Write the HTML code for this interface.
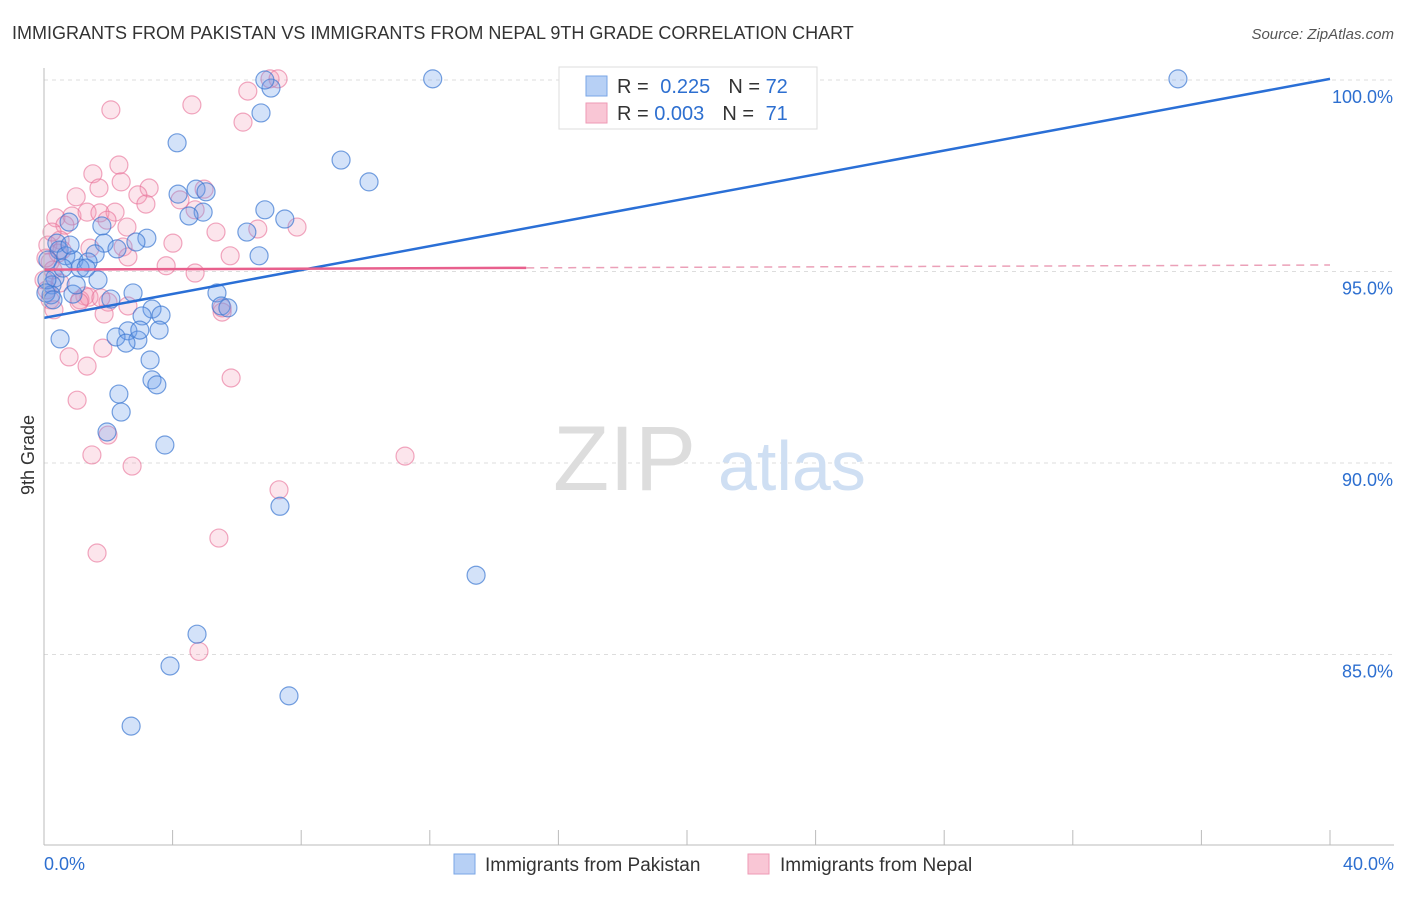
<!DOCTYPE html>
<html><head><meta charset="utf-8"><style>
body{margin:0;background:#fff;font-family:"Liberation Sans",sans-serif;}
svg text{font-family:"Liberation Sans",sans-serif;}
</style></head><body>
<svg id="chart" width="1406" height="892" xmlns="http://www.w3.org/2000/svg">
<text x="12" y="39" font-size="18" fill="#333">IMMIGRANTS FROM PAKISTAN VS IMMIGRANTS FROM NEPAL 9TH GRADE CORRELATION CHART</text>
<text x="1394" y="39" font-size="15" fill="#555" font-style="italic" text-anchor="end">Source: ZipAtlas.com</text>
<g id="grid"></g>
<g><text x="553" y="490" font-size="92" fill="#ddd" font-family="Liberation Serif">ZIP</text><text x="718" y="490" font-size="70" fill="#cfdff3">atlas</text></g>
<g id="pts"></g>
<g id="trend"></g>
<g id="axes"></g>
<text transform="translate(34,455) rotate(-90)" font-size="18" fill="#333" text-anchor="middle">9th Grade</text>
<g>
<rect x="559" y="67" width="258" height="62" fill="#fff" stroke="#ddd"/>
<rect x="586" y="76" width="21" height="20" fill="#b7d0f5" stroke="#7aa6e6"/>
<rect x="586" y="103" width="21" height="20" fill="#f9c6d5" stroke="#ee9ab5"/>
<text x="617" y="93" font-size="20" fill="#333">R = <tspan fill="#2d6fd0" dx="6">0.225</tspan><tspan dx="18" fill="#333">N = </tspan><tspan fill="#2d6fd0">72</tspan></text>
<text x="617" y="120" font-size="20" fill="#333">R = <tspan fill="#2d6fd0">0.003</tspan><tspan dx="18" fill="#333">N = </tspan><tspan fill="#2d6fd0" dx="6">71</tspan></text>
</g>
<g>
<rect x="454" y="854" width="21" height="20" fill="#b7d0f5" stroke="#7aa6e6"/>
<text x="485" y="871" font-size="19" fill="#333">Immigrants from Pakistan</text>
<rect x="748" y="854" width="21" height="20" fill="#f9c6d5" stroke="#ee9ab5"/>
<text x="780" y="871" font-size="19" fill="#333">Immigrants from Nepal</text>
</g>
</svg>
<script>
const yTicks=[100,95,90,85];
const yTickLabels=["100.0%","95.0%","90.0%","85.0%"];
const xTickLabels=["0.0%","40.0%"];
const blueX=[12.09,35.27,16.36,7.06,6.87,6.75,4.14,9.24,10.11,4.73,5.04,4.17,4.95,4.51,6.87,7.49,6.31,6.69,0.78,1.80,3.20,2.86,1.87,2.27,0.40,0.47,0.68,0.93,1.59,1.37,1.68,1.12,1.31,0.34,0.25,0.90,0.22,5.38,5.51,5.72,2.77,2.08,3.36,3.05,3.64,2.61,2.24,2.92,2.55,3.58,0.50,3.30,3.36,3.51,2.33,2.40,1.96,3.76,7.34,13.44,4.76,3.92,7.62,2.71,0.09,0.59,0.06,1.00,0.12,0.28,2.98,0.81];
const blueY=[100.03,100.03,100.03,99.79,100.0,99.14,98.36,97.91,97.34,97.15,97.08,97.02,96.55,96.45,96.61,96.37,96.03,95.41,96.29,96.19,95.87,95.77,95.74,95.59,95.74,95.56,95.41,95.30,95.46,95.25,94.78,95.09,95.09,94.83,94.65,94.41,94.39,94.44,94.10,94.05,94.44,94.28,94.02,93.84,93.86,93.45,93.29,93.21,93.13,93.47,93.24,92.69,92.17,92.04,91.80,91.33,90.81,90.47,88.87,87.07,85.53,84.70,83.92,83.13,94.78,95.09,94.44,94.65,95.30,94.26,93.47,95.69];
const pinkX=[7.03,7.28,6.34,4.60,2.08,6.19,2.33,1.52,2.40,1.71,3.27,1.00,2.92,4.98,3.17,4.23,0.37,0.87,1.34,1.74,2.21,1.96,2.58,4.70,4.01,5.35,6.65,7.87,0.65,0.50,1.43,2.46,2.61,3.80,4.70,0.12,0.44,0.19,0.28,0.50,0.09,0.19,0.31,1.27,1.12,1.40,1.99,1.77,1.09,2.61,1.87,5.54,1.83,0.78,1.34,5.82,1.03,1.49,1.99,2.74,11.23,7.31,1.65,5.44,4.82,5.54,5.79,0.25,0.06,0.56,0.0];
const pinkY=[100.03,100.03,99.71,99.35,99.22,98.90,97.78,97.55,97.34,97.18,97.18,96.95,97.00,97.15,96.76,96.87,96.40,96.45,96.55,96.53,96.55,96.34,96.16,96.61,95.74,96.03,96.11,96.16,96.21,95.82,95.61,95.64,95.38,95.15,94.96,95.69,95.48,95.25,95.04,94.70,94.52,94.26,94.00,94.36,94.26,94.33,94.20,94.31,94.20,94.10,93.89,93.94,93.00,92.77,92.53,92.22,91.64,90.21,90.73,89.92,90.18,89.30,87.65,88.04,85.08,94.05,95.41,96.03,95.35,95.56,94.78];
const blueFit=[93.79,100.03];
const pinkFit=[95.05,95.17];
const NS="http://www.w3.org/2000/svg";
const X0=44,X1=1330,Y100=80,PPU=38.3;
const sx=v=>X0+(X1-X0)*v/40;
const sy=v=>Y100+(100-v)*PPU;
function mk(tag,attrs,parent){const e=document.createElementNS(NS,tag);for(const k in attrs)e.setAttribute(k,attrs[k]);parent.appendChild(e);return e;}
const grid=document.getElementById('grid'),axes=document.getElementById('axes'),pts=document.getElementById('pts'),trend=document.getElementById('trend');
yTicks.forEach((t,i)=>{
 const l=mk('line',{x1:44,x2:1394,y1:sy(t),y2:sy(t),stroke:'#ddd','stroke-dasharray':'4,4'},grid);
 
 
 const tx=mk('text',{x:1393,y:sy(t)+23,'font-size':18,fill:'#2d6fd0','text-anchor':'end'},axes);
 tx.textContent=yTickLabels[i];
 
 
});
const ya=mk('line',{x1:44,x2:44,y1:68,y2:845,stroke:'#bbb'},axes);


const xa=mk('line',{x1:44,x2:1394,y1:845,y2:845,stroke:'#bbb'},axes);


for(let i=0;i<=10;i++){const x=X0+(X1-X0)*i/10;const t=mk('line',{x1:x,x2:x,y1:830,y2:845,stroke:'#bbb'},axes);
 
 }
[[0,'start',44],[40,'end',1394]].forEach((d,i)=>{const t=mk('text',{x:d[2],y:870,'font-size':18,fill:'#2d6fd0','text-anchor':d[1]},axes);t.textContent=xTickLabels[i];
 
 });
function scatter(xs,ys,fill,stroke,name){xs.forEach((v,i)=>{const c=mk('circle',{cx:sx(v),cy:sy(ys[i]),r:9,fill:fill,stroke:stroke,'stroke-width':1.2},pts);
 
 });}
scatter(pinkX,pinkY,'rgba(244,150,180,0.25)','rgba(232,110,150,0.6)','nepal-point');
scatter(blueX,blueY,'rgba(110,160,235,0.3)','rgba(60,120,210,0.7)','pakistan-point');
const bl=mk('line',{x1:sx(0),y1:sy(blueFit[0]),x2:sx(40),y2:sy(blueFit[1]),stroke:'#2a6fd6','stroke-width':2.5},trend);


const pm=v=>pinkFit[0]+(pinkFit[1]-pinkFit[0])*v/40;
const pl=mk('line',{x1:sx(0),y1:sy(pm(0)),x2:sx(15),y2:sy(pm(15)),stroke:'#e8608d','stroke-width':2.5},trend);


const pd=mk('line',{x1:sx(15),y1:sy(pm(15)),x2:sx(40),y2:sy(pm(40)),stroke:'#eba0b8','stroke-width':1.5,'stroke-dasharray':'8,6'},trend);


</script>
</body></html>
